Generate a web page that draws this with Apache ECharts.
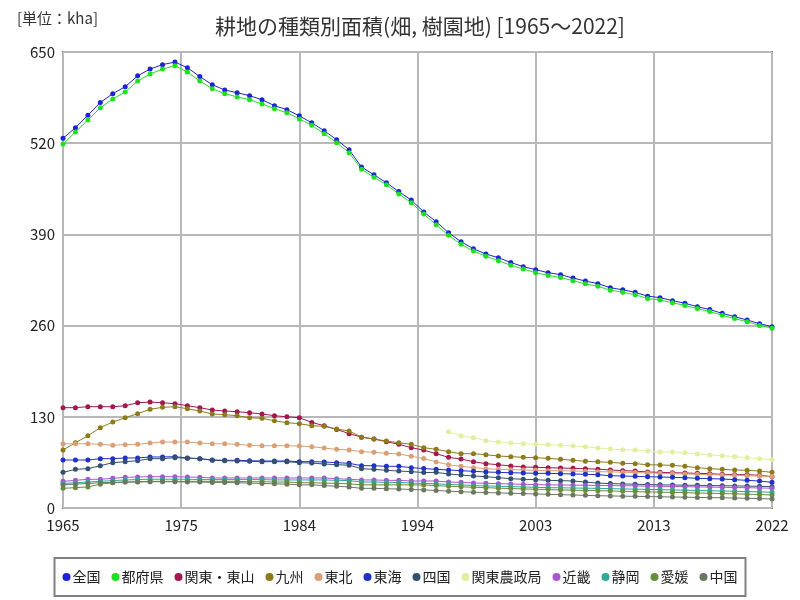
<!DOCTYPE html>
<html><head><meta charset="utf-8">
<script src="https://cdn.jsdelivr.net/npm/echarts@6/dist/echarts.min.js"></script>
<style>html,body{margin:0;padding:0;background:#fff}#c{width:800px;height:600px}</style>
</head><body><div id="c"></div>
<script>
const years = [1965,1966,1967,1968,1969,1970,1971,1972,1973,1974,1975,1976,1977,1978,1979,1980,1981,1982,1983,1984,1985,1986,1987,1988,1989,1990,1991,1992,1993,1994,1995,1996,1997,1998,1999,2000,2001,2002,2003,2004,2005,2006,2007,2008,2009,2010,2011,2012,2013,2014,2015,2016,2017,2018,2019,2020,2021,2022];
const yTicks = [0,130,260,390,520,650];
const xTickLabels = ['1965','1975','1984','1994','2003','2013','2022'];

const zenkoku = [527,542,560,578,590.6,600.5,616,625.7,632,635.7,627.6,615,603.4,595.8,592,587.7,582,573.5,567.8,559,
549,537.8,525,510.7,486,475,463.6,451,439,422,408,392.4,379.6,369.6,362,356.8,350,344,339.7,
335.4,332.6,327.8,323.5,319.8,314,311,307.4,302,299.8,295.6,291.8,287,282.8,277.5,272.7,268,262.7,258.5];
const tofuken = [518.8,536,553,570.6,583,593,608.6,618.6,625.7,630.5,621.5,608.6,597.7,590.6,586,582,576,569,563.5,554.5,
545.5,533.5,520.7,506.5,482.8,471.4,460.8,447.6,435.2,419,403.8,388.7,375.9,366.3,358.8,352.5,346,340.7,335.4,
331.5,328.5,324,319.5,316,310.5,307.5,304,298.5,296.5,292.5,288.8,284.2,280,274.8,270,265.4,260.3,256.3];
const kantoTozan = [143,143,144.4,144.4,144.4,145.8,150,151,150,148.7,145.8,143,139.7,138.3,137.3,
135.8,134,131.6,130,128.7,122,117.3,112,106,101,98.3,94.5,90.8,86,82.5,
77.4,72.2,69.8,66,63.2,61.7,59.9,58.4,58,57.5,57,56.5,56,55.4,
54.2,53.2,52.7,51.3,50.8,50.3,49.9,49.4,48.9,48,47.5,47.5,46.6,44.6];
const kyushu = [82.7,93,103,114.5,122.6,128.7,134.4,140.7,143.5,144.4,141.5,138.3,134,133,131.6,
128.7,127.8,124.4,121.6,120.2,117.3,116.4,112.6,109.8,101,98.3,95.5,93,90.8,86,
83.6,80.3,77.4,77.4,76,74.1,73.2,72.2,71.7,70.8,69.4,68,66.6,65.8,
65.1,63.7,63.2,61.7,61.3,60.8,59.4,57.5,56.1,55.1,54.2,53.7,52.7,50.8];
const tohoku = [91.6,91.6,91.6,90.8,89.4,90.3,90.8,92.6,94,94,94,92.6,91.6,91.6,90.8,
89.4,88.8,88.8,88.8,88.4,87.4,85.5,83.6,82.7,80.3,79.4,78,77,73.7,70.5,
65.6,61.7,59.4,57.5,56.1,55.1,54.6,54.2,53.7,53.2,53.2,52.7,52.3,51.8,
51.5,51,50.5,50,49.5,49,48.5,48,47.5,47,46.5,46,45.5,45];
const tokai = [68.4,68.4,68.4,70.3,70.3,71.3,71.3,72.7,72.7,73.2,71.3,70.3,68.4,68,68,
67.4,67,67,67,66,66,65.6,64.6,63.7,60.3,60.3,59.4,59.4,57.5,56.3,
55.1,54.2,53.2,52.3,51.3,50.8,50.3,49.9,49.4,49.4,48.9,48.5,48,47.5,
46,45.6,45.1,44.6,44.2,43.7,43.2,42.3,41.8,41.3,40.4,39.4,38.5,36.6];
const shikoku = [50.8,55.1,56.1,60.3,64.6,66,67.4,70.3,70.3,71.7,71,70.3,68,67.4,67,
66.5,66,66,66,64.6,64,62.7,61.7,61,56.1,55.1,53.7,52.7,51.8,50.5,
50.8,48.5,47,45.6,44.6,43.2,41.8,40.9,40.4,39.4,39,38.5,37,35.5,
34.8,34.3,33.8,33.4,33,32.8,32.5,32.3,32,31.8,31.5,31.2,30.9,30.4];
const kantoNoseikyoku = [null,null,null,null,null,null,null,null,null,null,null,null,null,null,null,null,null,null,null,null,null,null,null,null,null,null,null,null,null,null,null,
108.8,103,100.2,96,94,92.6,91.6,90.8,90.3,89.4,88.4,87.4,85.5,84,83.1,82.7,81.2,79.8,79.8,78.8,77,75.5,74.6,73.2,71.7,70.3,68.9];
const kinki = [38,39.4,40.9,40.9,42.3,43.7,44.2,44.6,44.6,44.6,44.2,43.7,42.8,42.8,42.8,
42.8,42.8,42.8,42.8,42.8,42.8,42.8,41.8,40.9,40,40,39.4,39.4,38.5,38.5,
38.5,37,36.6,35.6,35.2,34.7,34.2,33.7,33.3,33,32.8,32.6,32.4,32.2,
32,31.8,31.5,31.2,31,30.7,30.4,30.1,29.8,29.5,29.2,28.9,28.6,28.2];
const shizuoka = [35,36,37,38,39,40,40.5,41,41,41,41,40.5,40.5,40.5,40.5,
40.5,40.5,40,40,40,40,40,39.5,39,37,37,36.5,36.5,35.5,35,
34.5,33.5,33,32,31.5,31,30.5,30,29.5,29,28.8,28.5,28.2,28,
27.6,27.2,26.8,26.5,26.2,25.8,25.4,25,24.6,24.2,23.8,23.4,23,22.5];
const ehime = [28,29,30,34,36,37,37.5,38,38,38,38,38,38,38,38,
37.5,37.5,37,37,36,36,35.5,35,34.5,33,33,33,33,33,32.8,
32,31,30.3,29.5,29,28.3,27.7,27.2,26.8,26.3,25.8,25.4,25,24.7,
24.3,23.8,23.4,23,22.6,22.2,21.8,21.4,21,20.6,20.2,19.7,19.2,18.5];
const chugoku = [33,34,35,36,36.5,37,37,37.5,37.5,37.5,37,37,36.5,36.5,36,
35.5,35,34.5,34,33,33,32,31,30,28,28,27.5,27,26.5,25.7,
25,24,23.2,22.5,22,21.5,21,20.5,20,19.5,19,18.5,18,17.5,
17.2,16.9,16.6,16.3,16,15.7,15.4,15.1,14.8,14.5,14.2,13.8,13.4,12.8];

const seriesDefs = [
  ['全国', zenkoku, '#1f22d4'],
  ['都府県', tofuken, '#1fe01f'],
  ['関東・東山', kantoTozan, '#a3174f'],
  ['九州', kyushu, '#8d7b1b'],
  ['東北', tohoku, '#d9a077'],
  ['東海', tokai, '#1f2fcb'],
  ['四国', shikoku, '#34506f'],
  ['関東農政局', kantoNoseikyoku, '#e3ee9e'],
  ['近畿', kinki, '#a955d2'],
  ['静岡', shizuoka, '#2ea89a'],
  ['愛媛', ehime, '#6a8d3b'],
  ['中国', chugoku, '#6b7861']
];

const x0 = years[0];
const span = years[years.length-1] - x0;
const xStep = span / (xTickLabels.length - 1);

const series = seriesDefs.map(([name, vals, color]) => ({
  name, type: 'line',
  data: years.map((y, i) => vals[i] == null ? null : [y - x0, vals[i]]).filter(d => d),
  symbol: 'circle', symbolSize: 5, showSymbol: true,
  lineStyle: { width: 1, color }, itemStyle: { color },
  animation: false, z: 2
}));

const chart = echarts.init(document.getElementById('c'), null, {renderer: 'canvas'});
const font = '"Noto Sans CJK JP", sans-serif';
chart.setOption({
  backgroundColor: '#fff',
  title: [
    { text: '耕地の種類別面積(畑, 樹園地) [1965～2022]', left: 415, top: 11, textAlign: 'center',
      textStyle: { fontFamily: font, fontSize: 21, fontWeight: 'normal', color: '#333' } },
    { text: '[単位：kha]', left: 12, top: 6,
      textStyle: { fontFamily: font, fontSize: 15, fontWeight: 'normal', color: '#333' } }
  ],
  grid: { left: 63, right: 28, top: 52, bottom: 92, show: true, borderColor: '#707070', borderWidth: 2 },
  legend: {
    bottom: 4, left: 'center', icon: 'circle', itemWidth: 8, itemHeight: 8, itemGap: 11,
    borderColor: '#808080', borderWidth: 2, padding: [12, 8, 12, 8],
    textStyle: { fontFamily: font, fontSize: 14, color: '#222', padding: [0,0,0,-3] },
    data: seriesDefs.map(d => d[0])
  },
  xAxis: {
    type: 'value', min: 0, max: span, interval: xStep,
    axisLine: { show: false }, axisTick: { show: false },
    splitLine: { show: true, lineStyle: { color: '#b8b8b8', width: 2 } },
    axisLabel: { fontFamily: font, fontSize: 15, color: '#222', margin: 10,
      formatter: v => xTickLabels[Math.round(v / xStep)] }
  },
  yAxis: {
    type: 'value', min: yTicks[0], max: yTicks[yTicks.length-1], interval: yTicks[1]-yTicks[0],
    axisLine: { show: false }, axisTick: { show: false },
    splitLine: { show: true, lineStyle: { color: '#b8b8b8', width: 2 } },
    axisLabel: { fontFamily: font, fontSize: 15, color: '#222', margin: 8 }
  },
  series
});
</script></body></html>
